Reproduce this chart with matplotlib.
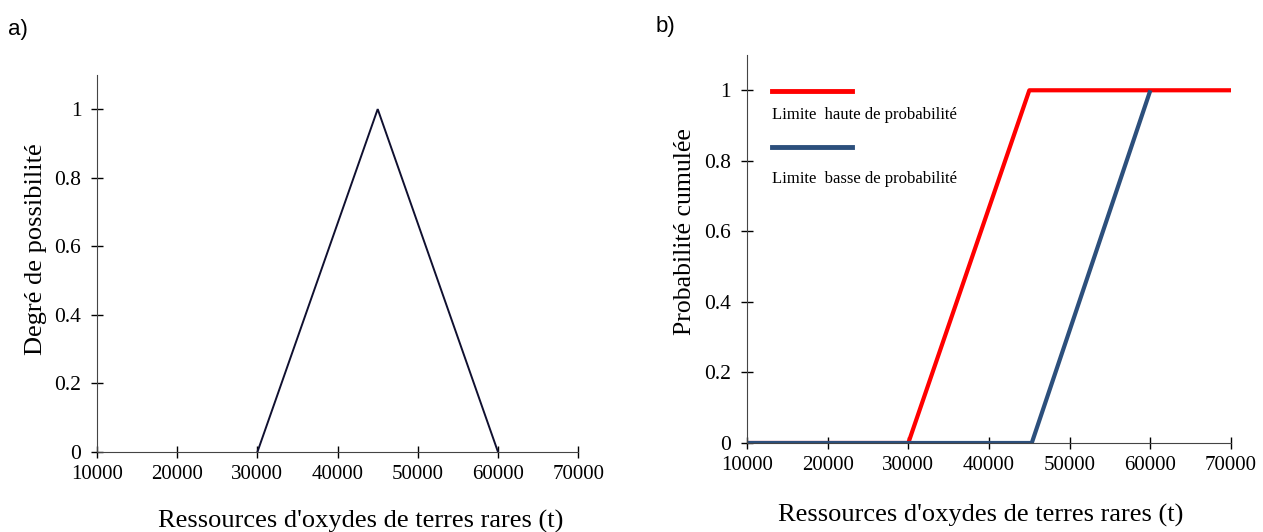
import matplotlib.pyplot as plt
from matplotlib.lines import Line2D

# panel a: triangular possibility distribution
poss_x = [30000, 45000, 60000]
poss_y = [0, 1, 0]

# panel b: upper / lower cumulative probability bounds
upper_x = [10000, 30000, 45000, 70500]
upper_y = [0, 0, 1, 1]
lower_x = [10000, 45300, 60000]
lower_y = [0, 0, 1]

xticks = [10000, 20000, 30000, 40000, 50000, 60000, 70000]
yticks = [0, 0.2, 0.4, 0.6, 0.8, 1]
ytick_labels = ["0", "0.2", "0.4", "0.6", "0.8", "1"]

serif = "Liberation Serif"
sans = "Liberation Sans"
red = "#ff0000"
blue = "#2c4f7c"

fig = plt.figure(figsize=(12.63, 5.32), dpi=100)
ax1 = fig.add_axes([0.0768, 0.1504, 0.381, 0.709])
ax2 = fig.add_axes([0.5914, 0.1673, 0.3833, 0.7293])


def style(ax):
    ax.set_xlim(10000, 70000)
    ax.set_ylim(0, 1.1)
    ax.set_xticks(xticks)
    ax.set_xticklabels([str(v) for v in xticks], family=serif, fontsize=15)
    ax.set_yticks(yticks)
    ax.set_yticklabels(ytick_labels, family=serif, fontsize=15.5)
    ax.tick_params(direction="inout", length=8.6, width=1, colors="black")
    ax.tick_params(axis="x", pad=5)
    ax.tick_params(axis="y", pad=7)
    ax.spines["top"].set_visible(False)
    ax.spines["right"].set_visible(False)
    ax.spines["left"].set_color("#444444")
    ax.spines["bottom"].set_color("#444444")


style(ax1)
ax1.plot(poss_x, poss_y, color="#101030", linewidth=1.4, solid_joinstyle="miter")
ax1.set_xlabel("Ressources d'oxydes de terres rares (t)", family=serif, fontsize=19)
ax1.xaxis.set_label_coords(0.547, -0.153)
ax1.set_ylabel("Degré de possibilité", family=serif, fontsize=19)
ax1.yaxis.set_label_coords(-0.104, 0.537)

style(ax2)
ax2.plot(upper_x, upper_y, color=red, linewidth=3, solid_capstyle="butt")
ax2.plot(lower_x, lower_y, color=blue, linewidth=3, solid_capstyle="butt")
ax2.set_xlabel("Ressources d'oxydes de terres rares (t)", family=serif, fontsize=19)
ax2.xaxis.set_label_coords(0.483, -0.158)
ax2.set_ylabel("Probabilité cumulée", family=serif, fontsize=18.5)
ax2.yaxis.set_label_coords(-0.106, 0.546)

# hand-made legend: line segment with text underneath
ax2.add_line(Line2D([0.052, 0.217], [0.906, 0.906], transform=ax2.transAxes,
                    color=red, linewidth=3.5))
ax2.text(0.052, 0.845, "Limite  haute de probabilité", transform=ax2.transAxes,
         family=serif, fontsize=12, va="center", ha="left")
ax2.add_line(Line2D([0.052, 0.217], [0.763, 0.763], transform=ax2.transAxes,
                    color=blue, linewidth=3.5))
ax2.text(0.052, 0.680, "Limite  basse de probabilité", transform=ax2.transAxes,
         family=serif, fontsize=12, va="center", ha="left")

fig.text(0.006, 0.945, "a)", family=sans, fontsize=16, va="center")
fig.text(0.519, 0.95, "b)", family=sans, fontsize=16, va="center")

fig.savefig("out.png", dpi=100)
